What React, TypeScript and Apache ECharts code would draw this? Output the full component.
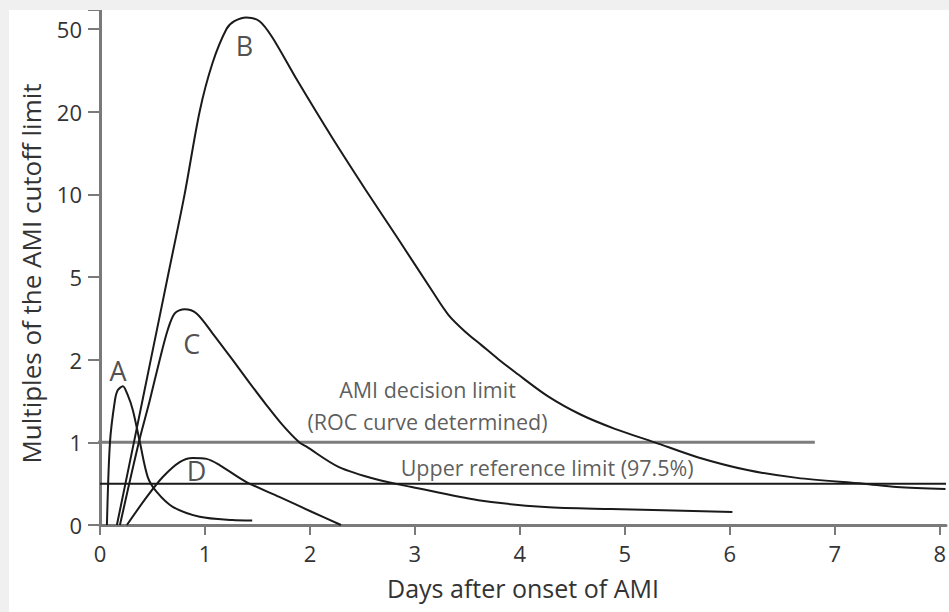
import React, { useEffect, useRef } from "react";
import * as echarts from "echarts";

// y axis tick values (non-linear scale: linear 0-1, then 1-2-5 log steps)
const yTickValues = [0, 1, 2, 5, 10, 20, 50];

// Curves: [days after onset, multiples of AMI cutoff]
const curveA: [number, number][] = [
  [0.066, 0], [0.095, 1.0], [0.142, 1.42], [0.17, 1.55], [0.218, 1.6],
  [0.26, 1.5], [0.313, 1.31], [0.38, 1.0], [0.455, 0.58], [0.54, 0.4],
  [0.693, 0.22], [0.95, 0.1], [1.26, 0.06], [1.45, 0.055],
];
const curveB: [number, number][] = [
  [0.161, 0], [0.323, 1.0], [0.484, 2], [0.645, 5], [0.806, 10], [0.949, 20],
  [1.072, 34.3], [1.205, 50], [1.28, 54.5], [1.395, 56.8], [1.52, 54.5],
  [1.641, 45.6], [1.879, 28.3], [2.211, 16.1], [2.533, 10.35], [2.846, 6.83],
  [3.159, 4.33], [3.321, 3.28], [3.482, 2.72], [3.634, 2.35], [3.795, 2.01],
  [3.956, 1.8], [4.269, 1.47], [4.583, 1.26], [4.905, 1.12], [5.285, 1.0],
  [5.693, 0.82], [6.167, 0.665], [6.641, 0.57], [7.277, 0.5], [7.59, 0.46],
  [8.055, 0.435],
];
const curveC: [number, number][] = [
  [0.19, 0], [0.37, 1.0], [0.474, 1.42], [0.569, 2.0], [0.645, 2.78],
  [0.712, 3.34], [0.806, 3.5], [0.92, 3.34], [1.072, 2.68], [1.262, 2.0],
  [1.423, 1.65], [1.584, 1.37], [1.736, 1.16], [1.898, 1.0], [1.964, 0.95],
  [2.277, 0.7], [2.657, 0.544], [2.97, 0.46], [3.605, 0.3], [4.241, 0.218],
  [4.867, 0.193], [6.025, 0.157],
];
const curveD: [number, number][] = [
  [0.256, 0], [0.446, 0.34], [0.598, 0.58], [0.759, 0.76], [0.882, 0.81],
  [1.015, 0.8], [1.139, 0.725], [1.395, 0.52], [1.708, 0.34], [2.021, 0.157],
  [2.296, 0],
];

// Reference lines
const decisionLimit: [number, number][] = [[-0.1, 1], [6.81, 1]];
const upperReference: [number, number][] = [[0, 0.5], [8.06, 0.5]];

// Text annotations [day, value]
const curveLetters = [
  { name: "A", day: 0.171, value: 1.83 },
  { name: "B", day: 1.376, value: 41.6 },
  { name: "C", day: 0.873, value: 2.4 },
  { name: "D", day: 0.92, value: 0.665 },
];
const limitTexts = [
  { name: "AMI decision limit\n(ROC curve determined)", day: 3.12, value: 1.357 },
  { name: "Upper reference limit (97.5%)", day: 4.26, value: 0.7 },
];

// map a value to its position on the non-linear axis
function toPos(v: number): number {
  if (v <= 1) return v;
  const t = yTickValues;
  for (let i = 1; i < t.length - 1; i++) {
    if (v <= t[i + 1]) {
      return i + Math.log(v / t[i]) / Math.log(t[i + 1] / t[i]);
    }
  }
  const n = t.length - 1;
  return n + Math.log(v / t[n]) / Math.log(t[n] / t[n - 1]);
}

const tr = (arr: [number, number][]) => arr.map(([x, y]) => [x, toPos(y)]);

const FONT = "'Open Sans', 'DejaVu Sans', sans-serif";
const AXIS_COLOR = "#7a7a7a";
const TEXT_COLOR = "#333";

export default function App() {
  const ref = useRef<HTMLDivElement>(null);
  useEffect(() => {
    if (!ref.current) return;
    const chart = echarts.init(ref.current, undefined, { renderer: "svg" });
    const curveStyle = { color: "#1a1a1a", width: 2 };
    const mkCurve = (name: string, data: [number, number][]) => ({
      name,
      type: "line",
      data: tr(data),
      smooth: 0.3,
      symbol: "none",
      lineStyle: curveStyle,
      z: 3,
    });
    chart.setOption({
      animation: false,
      textStyle: { fontFamily: FONT },
      grid: { left: 91, right: 0, top: 0, bottom: 87, containLabel: false },
      xAxis: {
        type: "value",
        min: 0,
        max: 8.06,
        interval: 1,
        name: "Days after onset of AMI",
        nameLocation: "middle",
        nameGap: 50,
        nameTextStyle: { fontSize: 25, color: TEXT_COLOR, fontFamily: FONT },
        axisLine: { lineStyle: { color: AXIS_COLOR, width: 3 } },
        axisTick: { show: true, length: 10, lineStyle: { color: AXIS_COLOR, width: 2 } },
        axisLabel: { fontSize: 22, color: TEXT_COLOR, margin: 17, fontFamily: FONT },
        splitLine: { show: false },
      },
      yAxis: {
        type: "value",
        min: 0,
        max: 6.23,
        interval: 1,
        name: "Multiples of the AMI cutoff limit",
        nameLocation: "middle",
        nameGap: 56,
        nameTextStyle: {
          fontSize: 26,
          color: TEXT_COLOR,
          fontFamily: FONT,
          padding: [0, 12, 0, 0],
        },
        axisLine: { show: true, lineStyle: { color: AXIS_COLOR, width: 3 } },
        axisTick: { show: true, length: 12, lineStyle: { color: AXIS_COLOR, width: 2 } },
        axisLabel: {
          fontSize: 22,
          color: TEXT_COLOR,
          margin: 18,
          fontFamily: FONT,
          formatter: (v: number) => {
            const i = Math.round(v);
            return Math.abs(v - i) < 1e-6 && i < yTickValues.length ? String(yTickValues[i]) : "";
          },
        },
        splitLine: { show: false },
      },
      series: [
        {
          name: "decision",
          type: "line",
          data: tr(decisionLimit),
          symbol: "none",
          clip: false,
          lineStyle: { color: "#7d7d7d", width: 3 },
          z: 2,
        },
        {
          name: "upper",
          type: "line",
          data: tr(upperReference),
          symbol: "none",
          lineStyle: { color: "#1a1a1a", width: 2 },
          z: 2,
        },
        mkCurve("A", curveA),
        mkCurve("B", curveB),
        mkCurve("C", curveC),
        mkCurve("D", curveD),
        {
          name: "letters",
          type: "scatter",
          symbolSize: 1,
          itemStyle: { color: "rgba(0,0,0,0)" },
          data: curveLetters.map((l) => ({ name: l.name, value: [l.day, toPos(l.value)] })),
          label: {
            show: true,
            position: "inside",
            formatter: "{b}",
            fontSize: 27,
            color: "#222",
            fontFamily: FONT,
          },
          silent: true,
          z: 4,
        },
        {
          name: "limitTexts",
          type: "scatter",
          symbolSize: 1,
          itemStyle: { color: "rgba(0,0,0,0)" },
          data: limitTexts.map((l) => ({ name: l.name, value: [l.day, toPos(l.value)] })),
          label: {
            show: true,
            position: "inside",
            formatter: "{b}",
            fontSize: 21.5,
            lineHeight: 32,
            align: "center",
            color: TEXT_COLOR,
            fontFamily: FONT,
          },
          silent: true,
          z: 4,
        },
      ],
    });
    return () => chart.dispose();
  }, []);

  return (
    <div
      style={{
        position: "absolute",
        left: 0,
        top: 0,
        width: 949,
        height: 612,
        background: "#f0f0f0",
        overflow: "hidden",
      }}
    >
      <div
        ref={ref}
        style={{
          position: "absolute",
          left: 9,
          top: 10,
          width: 940,
          height: 602,
          background: "#ffffff",
        }}
      />
    </div>
  );
}
